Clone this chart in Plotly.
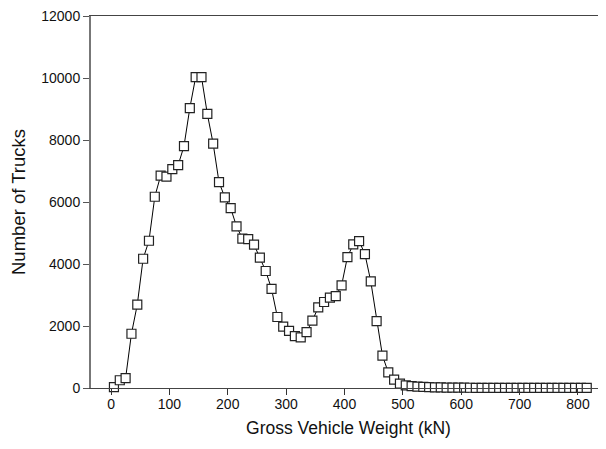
import plotly.graph_objects as go

# Gross vehicle weight bin centres (kN)
gvw = [5 + 10 * i for i in range(82)]

# Number of trucks per bin
trucks = [
    30, 250, 320, 1750, 2690, 4170, 4750, 6170, 6850, 6820,
    7060, 7190, 7800, 9030, 10030, 10030, 8840, 7880, 6640, 6150,
    5800, 5215, 4820, 4800, 4625, 4205, 3775, 3195, 2290, 1980,
    1840, 1675, 1635, 1805, 2175, 2600, 2775, 2915, 2965, 3310,
    4225, 4635, 4740, 4320, 3440, 2160, 1045, 505, 270, 140,
    85, 60, 45, 35, 28, 22, 18, 15, 12, 10,
    9, 8, 7, 6, 5, 5, 4, 4, 3, 3,
    3, 2, 2, 2, 2, 1, 1, 1, 1, 1,
    1, 1,
]

x_ticks = [0, 100, 200, 300, 400, 500, 600, 700, 800]
y_ticks = [0, 2000, 4000, 6000, 8000, 10000, 12000]

font_family = "Arial, Liberation Sans, sans-serif"

fig = go.Figure()
fig.add_trace(go.Scatter(
    x=gvw, y=trucks,
    mode="lines+markers",
    line=dict(color="black", width=1),
    marker=dict(symbol="square", size=9, color="white",
                line=dict(color="#222222", width=1.2)),
    showlegend=False,
    cliponaxis=False,
))

# page body has an 8px margin, so the figure is offset by (8, 8)
fig.update_layout(
    width=606, height=449,
    margin=dict(l=83, r=8, t=8, b=69, autoexpand=False),
    paper_bgcolor="white", plot_bgcolor="white",
    font=dict(family=font_family, color="#111111", size=14),
    xaxis=dict(
        range=[-34.3, 848],
        tickmode="array", tickvals=x_ticks, ticktext=[str(v) for v in x_ticks],
        ticks="outside", ticklen=6, tickwidth=1, tickcolor="#333333",
        showline=True, linecolor="#444444", linewidth=1.3, mirror=True,
        showgrid=False, zeroline=False, automargin=True,
        ticklabelstandoff=-3,
        tickfont=dict(size=14),
        title=dict(text="Gross Vehicle Weight (kN)", font=dict(size=17.5), standoff=10),
    ),
    yaxis=dict(
        range=[0, 12000],
        tickmode="array", tickvals=y_ticks, ticktext=[str(v) for v in y_ticks],
        ticks="outside", ticklen=6, tickwidth=1, tickcolor="#555555",
        showline=True, linecolor="#777777", linewidth=2,
        showgrid=False, zeroline=False, automargin=True,
        ticklabeloverflow="allow",
        tickfont=dict(size=14),
        title=dict(text="Number of Trucks", font=dict(size=18.5), standoff=21),
    ),
)

fig.write_html("out.html")
